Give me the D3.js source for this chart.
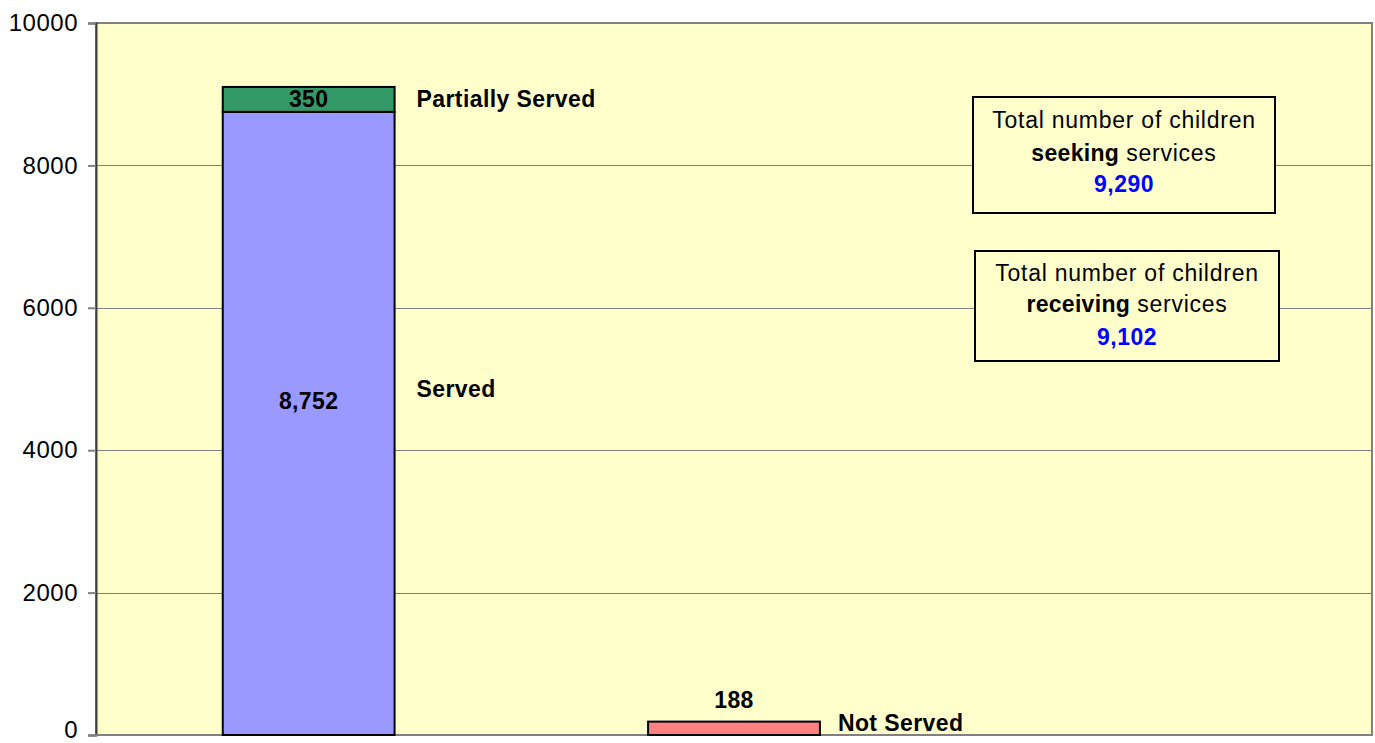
<!DOCTYPE html>
<html>
<head>
<meta charset="utf-8">
<script src="https://cdn.jsdelivr.net/npm/d3@7"></script>
<style>
  html, body { margin: 0; padding: 0; background: #ffffff; }
  svg { display: block; font-family: "Liberation Sans", Arial, sans-serif; }
</style>
</head>
<body>
<svg id="chart" width="1375" height="743"></svg>
<script>
// ---- data ----
const categories = ["Served", "Not Served", "Totals"];
const servedValues = [8752, 0, 0];
const partialValues = [350, 0, 0];
const notServedValues = [0, 188, 0];
const seriesNames = ["Served", "Partially Served", "Not Served"];
const yTicks = [0, 2000, 4000, 6000, 8000, 10000];
const totalSeeking = 9290;
const totalReceiving = 9102;

// ---- layout ----
const W = 1375, H = 743;
const m = { left: 96, top: 23, right: 3, bottom: 8 };
const svg = d3.select("#chart");

const x = d3.scaleBand().domain(categories)
  .range([m.left, W - m.right]).paddingInner(0.596).paddingOuter(0.298);
const y = d3.scaleLinear().domain([0, 10000]).range([H - m.bottom, m.top]);

const fmt = d3.format(",");

// plot background
svg.append("rect").attr("x", m.left).attr("y", m.top)
  .attr("width", W - m.right - m.left).attr("height", H - m.bottom - m.top)
  .attr("fill", "#FFFFCC").attr("stroke", "#808080").attr("stroke-width", 2);

// gridlines
svg.append("g").selectAll("line").data(yTicks.filter(t => t > 0 && t < 10000)).join("line")
  .attr("x1", m.left).attr("x2", W - m.right)
  .attr("y1", d => Math.round(y(d)) + 0.5).attr("y2", d => Math.round(y(d)) + 0.5)
  .attr("stroke", "#808080").attr("stroke-width", 1);

// y axis
const yAxis = d3.axisLeft(y).tickValues(yTicks).tickSize(8).tickPadding(10).tickFormat(d3.format("d"));
const ya = svg.append("g").attr("transform", `translate(${m.left},0)`).call(yAxis);
ya.select(".domain").attr("stroke", "#404040").attr("stroke-width", 2);
ya.selectAll(".tick line").attr("stroke", "#808080").attr("stroke-width", 2);
ya.selectAll(".tick text").attr("font-size", 24).attr("letter-spacing", 0.5).attr("fill", "#000")
  .attr("font-family", "'Liberation Sans', Arial, sans-serif");
ya.selectAll(".tick").filter(d => d === 0).select("text").attr("dy", "0.1em");

// bottom axis line
svg.append("line").attr("x1", m.left).attr("x2", W - m.right)
  .attr("y1", y(0)).attr("y2", y(0)).attr("stroke", "#808080").attr("stroke-width", 2);

// stacked bars
const rows = categories.map((c, i) => ({
  cat: c,
  segs: [
    { name: seriesNames[0], v: servedValues[i], color: "#9999FF" },
    { name: seriesNames[1], v: partialValues[i], color: "#339966" },
    { name: seriesNames[2], v: notServedValues[i], color: "#FF8080" }
  ]
}));
const segs = [];
rows.forEach(r => {
  let acc = 0;
  r.segs.forEach(s => {
    if (s.v > 0) segs.push({ cat: r.cat, name: s.name, v: s.v, y0: acc, y1: acc + s.v, color: s.color });
    acc += s.v;
  });
});

svg.append("g").selectAll("rect").data(segs).join("rect")
  .attr("x", d => x(d.cat)).attr("width", x.bandwidth())
  .attr("y", d => y(d.y1)).attr("height", d => y(d.y0) - y(d.y1))
  .attr("fill", d => d.color).attr("stroke", "#000").attr("stroke-width", 2);

// value labels
svg.append("g").selectAll("text").data(segs).join("text")
  .attr("x", d => x(d.cat) + x.bandwidth() / 2)
  .attr("y", d => {
    if (d.name === "Not Served") return y(d.y1) - 22;
    const mid = (y(d.y0) + y(d.y1)) / 2;
    return d.name === "Served" ? mid - 22 : mid;
  })
  .attr("dy", "0.35em").attr("text-anchor", "middle")
  .attr("font-size", 23).attr("letter-spacing", 0.4).attr("font-weight", "bold").attr("fill", "#000")
  .text(d => fmt(d.v));

// series name labels to the right of bars
svg.append("g").selectAll("text").data(segs).join("text")
  .attr("x", d => x(d.cat) + x.bandwidth() + (d.name === "Not Served" ? 18 : 22))
  .attr("y", d => {
    if (d.name === "Not Served") return y(d.y1) + 1;
    const mid = (y(d.y0) + y(d.y1)) / 2;
    return d.name === "Served" ? mid - 34 : mid;
  })
  .attr("dy", "0.35em").attr("text-anchor", "start")
  .attr("font-size", 23).attr("letter-spacing", 0.4).attr("font-weight", "bold").attr("fill", "#000")
  .text(d => d.name);

// annotation boxes
const boxes = [
  { top: 97, left: 973, w: 302, h: 116, verb: "seeking", value: totalSeeking, lines: [31, 64, 95] },
  { top: 251, left: 975, w: 304, h: 110, verb: "receiving", value: totalReceiving, lines: [30, 61, 94] }
];
boxes.forEach(b => {
  const g = svg.append("g");
  g.append("rect").attr("x", b.left).attr("y", b.top).attr("width", b.w).attr("height", b.h)
    .attr("fill", "#FFFFCC").attr("stroke", "#000").attr("stroke-width", 2);
  const cx = b.left + b.w / 2;
  g.append("text").attr("x", cx).attr("y", b.top + b.lines[0]).attr("text-anchor", "middle")
    .attr("font-size", 23).attr("letter-spacing", 0.75).attr("fill", "#000").text("Total number of children");
  const t2 = g.append("text").attr("x", cx).attr("y", b.top + b.lines[1]).attr("text-anchor", "middle")
    .attr("font-size", 23).attr("letter-spacing", 0.75).attr("fill", "#000");
  t2.append("tspan").attr("font-weight", "bold").attr("letter-spacing", 0.3).text(b.verb);
  t2.append("tspan").text(" services");
  g.append("text").attr("x", cx).attr("y", b.top + b.lines[2]).attr("text-anchor", "middle")
    .attr("font-size", 23).attr("letter-spacing", 0.5).attr("font-weight", "bold").attr("fill", "#0000FF").text(fmt(b.value));
});
</script>
</body>
</html>
